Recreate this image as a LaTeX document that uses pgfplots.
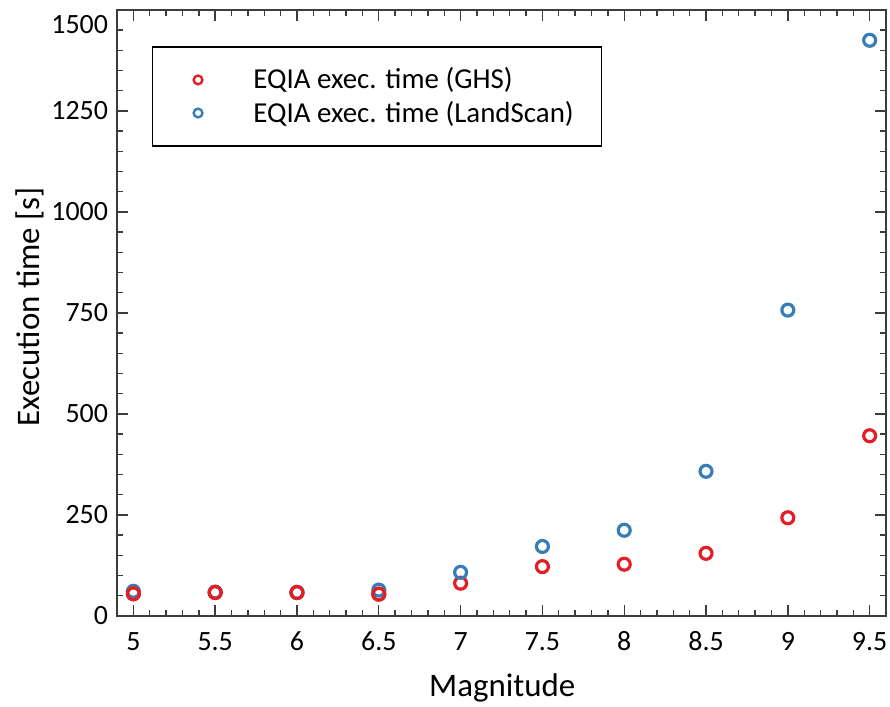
\documentclass[border=0pt]{standalone}
\usepackage{fontspec}
\setmainfont{Carlito}
\usepackage{pgfplots}
\pgfplotsset{compat=1.18}

\definecolor{ghsred}{RGB}{227,30,36}
\definecolor{lsblue}{RGB}{55,126,184}
\definecolor{axgray}{RGB}{60,60,60}
\newcommand{\tickfont}{\fontsize{14}{16}\selectfont}
\newcommand{\legfont}{\fontsize{14.5}{17}\selectfont}
\newcommand{\labfont}{\fontsize{16.5}{19}\selectfont}

\begin{document}
\begin{tikzpicture}
\begin{axis}[
    scale only axis,
    width=385.8pt, height=304pt,
    xmin=4.9, xmax=9.6,
    ymin=0, ymax=1500,
    xtick={5,5.5,...,9.5},
    ytick={0,250,...,1250},
    extra y ticks={1500},
    extra y tick style={yticklabel style={yshift=-7.5pt}},
    minor x tick num=4,
    minor ytick={0,50,...,1500},
    tick align=inside,
    major tick length=5.5pt,
    minor tick length=2.8pt,
    axis line style={axgray, line width=0.9pt},
    every tick/.style={axgray, line width=0.7pt},
    tick label style={font=\tickfont},
    /pgf/number format/assume math mode=true,
    /pgf/number format/1000 sep={},
    xticklabel style={yshift=-4.5pt, text height=9.5pt, text depth=0pt},
    yticklabel style={xshift=-1pt},
    xlabel={Magnitude},
    ylabel={Execution time [s]},
    every axis x label/.style={at={(axis description cs:0.501,-0.1184)},
        anchor=center, font=\labfont},
    every axis y label/.style={at={(axis description cs:-0.1133,0.51)},
        rotate=90, anchor=center, font=\labfont},
    legend style={
        at={(0.0455,0.94)}, anchor=north west,
        draw=black, line width=0.6pt,
        font=\legfont,
        inner xsep=0pt, inner ysep=8.5pt,
        row sep=0.5pt,
        cells={anchor=west},
    },
    legend image code/.code={
        \path (0pt,0pt) (47pt,0pt);
        \draw[line width=1.2pt, mark size=2.2pt] plot coordinates {(22pt,0pt)};
    },
]
\addplot[only marks, mark=o, mark size=3pt, line width=1.6pt, color=ghsred]
coordinates {
    (5,55) (5.5,58) (6,58) (6.5,54) (7,81) (7.5,122) (8,128) (8.5,155) (9,243) (9.5,446)
};
\addlegendentry{EQIA exec. time (GHS)}
\addplot[only marks, mark=o, mark size=3pt, line width=1.6pt, color=lsblue]
coordinates {
    (5,61) (5.5,59) (6,58) (6.5,64) (7,108) (7.5,172) (8,212) (8.5,358) (9,757) (9.5,1425)
};
\addlegendentry{EQIA exec. time (LandScan)\rule{12pt}{0pt}}
% redraw red on top, as in the reference
\addplot[only marks, mark=o, mark size=3pt, line width=1.6pt, color=ghsred, forget plot]
coordinates {
    (5,55) (5.5,58) (6,58) (6.5,54)
};
\end{axis}
\pgfresetboundingbox
\path ([xshift=-58.7pt,yshift=-45.2pt]current axis.south west)
      rectangle ([xshift=2pt,yshift=5pt]current axis.north east);
\end{tikzpicture}
\end{document}
